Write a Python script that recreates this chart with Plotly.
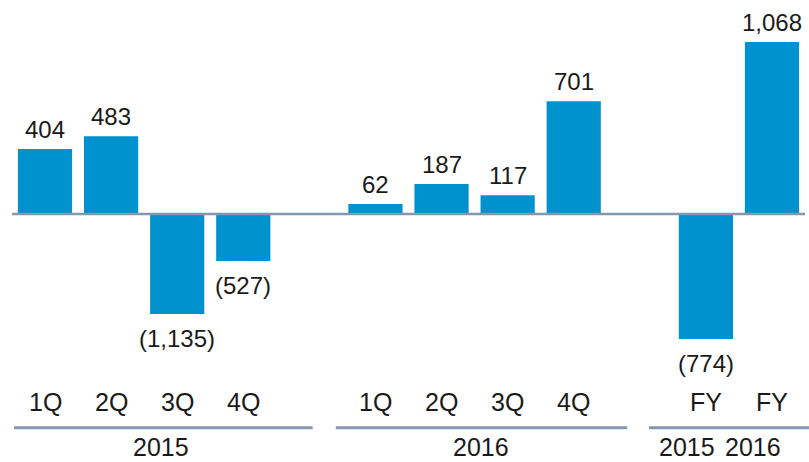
import plotly.graph_objects as go

# quarterly / full-year results, labels as printed on the chart
periods = ["1Q", "2Q", "3Q", "4Q", "1Q", "2Q", "3Q", "4Q", "FY", "FY"]
slots = [0, 1, 2, 3, 5, 6, 7, 8, 10, 11]
values = [404, 483, -1135, -527, 62, 187, 117, 701, -774, 1068]
# bar lengths as drawn in the source (its quarterly losses are drawn shortened)
drawn = [404, 483, -621, -292, 62, 187, 117, 701, -776, 1068]

group_years = ["2015", "2016", "2015", "2016"]
group_x = [1.75, 6.6, 9.72, 10.71]
group_lines = [(-0.47, 4.05), (4.40, 8.81), (9.14, 11.6)]

BLUE = "#0091CF"
LINE = "#8497AD"
FONT = "Liberation Sans, Arial, sans-serif"
TXT = "#1a1a1a"
FS = 24
FS_AX = 25


def fmt(v):
    s = f"{abs(v):,}"
    return f"({s})" if v < 0 else s


fig = go.Figure(go.Bar(x=slots, y=drawn, width=0.82, marker_color=BLUE,
                       marker_line_width=0, hoverinfo="skip"))

ann = []
for x, h, v in zip(slots, drawn, values):
    ann.append(dict(x=x, y=h, text=fmt(v), showarrow=False,
                    yanchor="bottom" if h >= 0 else "top",
                    yshift=4 if h >= 0 else -9,
                    font=dict(size=FS, color=TXT, family=FONT)))
for x, p in zip(slots, periods):
    ann.append(dict(x=x, y=0.13, yref="paper", yanchor="middle", text=p,
                    showarrow=False, font=dict(size=FS_AX, color=TXT, family=FONT)))
for x, yr in zip(group_x, group_years):
    ann.append(dict(x=x, y=0, yref="paper", yanchor="bottom", borderpad=0, text=yr,
                    showarrow=False, font=dict(size=FS_AX, color=TXT, family=FONT)))

shapes = [dict(type="line", x0=-0.5, x1=11.5, y0=0, y1=0,
               line=dict(color=LINE, width=2.5), layer="above")]
for a, b in group_lines:
    shapes.append(dict(type="line", x0=a, x1=b, y0=0.074, y1=0.074, yref="paper",
                       line=dict(color=LINE, width=3)))

fig.update_layout(
    width=809, height=462,
    margin=dict(l=0, r=0, t=0, b=0),
    paper_bgcolor="white", plot_bgcolor="white",
    showlegend=False,
    xaxis=dict(range=[-0.681, 11.56], visible=False, fixedrange=True),
    yaxis=dict(range=[-1540, 1329], visible=False, fixedrange=True),
    annotations=ann, shapes=shapes,
)

# page body has a default 8px margin; drop it so the figure sits at 0,0
fig.write_html("out.html", config={"displayModeBar": False},
               post_script="document.body.style.margin='0';")
